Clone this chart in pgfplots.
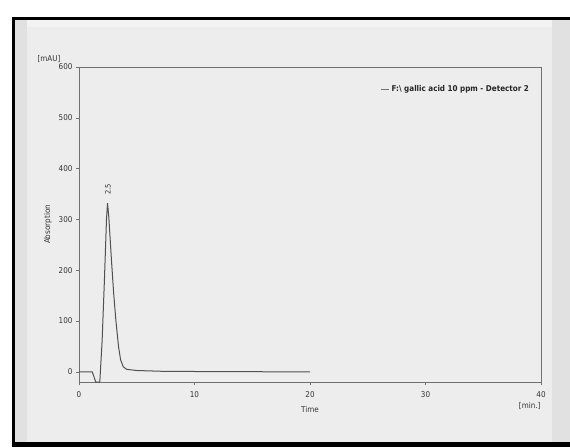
\documentclass[border=0pt]{standalone}
\usepackage{pgfplots}
\pgfplotsset{compat=1.18}
\usepackage{fontspec}
\setmainfont{DejaVu Sans Condensed}
\definecolor{bggray}{HTML}{EDEDED}
\definecolor{sidegray}{HTML}{E1E1E1}
\definecolor{axgray}{HTML}{707070}
\definecolor{txtgray}{HTML}{333333}
\definecolor{linegray}{HTML}{505050}

\begin{document}
\begin{tikzpicture}[x=1pt,y=1pt]
% page and frame
\fill[white] (0,0) rectangle (570,447);
\fill[black] (12,0) rectangle (570,430);
\fill[bggray] (15,5) rectangle (570,427);
\fill[sidegray] (15,5) rectangle (27,427);
\fill[sidegray] (552,5) rectangle (570,427);
\fill[white!30!bggray] (27,420) rectangle (552,427);
\begin{axis}[
  at={(79pt,65pt)}, anchor=south west,
  scale only axis,
  width=462pt, height=315pt,
  xmin=0, xmax=40, ymin=-20, ymax=600,
  xtick={0,10,20,30,40},
  ytick={0,100,200,300,400,500,600},
  tick pos=left,
  tick align=outside,
  major tick length=3pt,
  axis line style={axgray, line width=0.7pt},
  every tick/.style={axgray, line width=0.6pt},
  tick label style={font=\fontsize{8}{9}\selectfont, text=txtgray},
  /pgf/number format/assume math mode=true,
  xticklabel style={yshift=-3pt},
  xlabel={Time},
  xlabel style={font=\fontsize{8}{9}\selectfont, text=txtgray, yshift=-2pt},
  ylabel={Absorption},
  ylabel style={font=\fontsize{8}{9}\selectfont, text=txtgray, yshift=0pt},
  legend style={at={(0.985,0.955)}, anchor=north east, draw=none, fill=none,
    font=\fontsize{8}{9}\selectfont\bfseries, text=black!85},
  legend image post style={line width=1pt, black!55, xscale=0.5},
  clip mode=individual,
]
\addplot[linegray, line width=1pt] coordinates {
  (0,0) (1.15,0) (1.45,-20) (1.8,-20) (2.0,60) (2.2,180) (2.38,300) (2.47,332)
  (2.58,305) (2.81,220) (3.0,155) (3.19,102) (3.42,50) (3.6,24) (3.83,10)
  (4.12,5) (5.0,2.6) (7.3,1) (13,0.3) (20,0)
};
\addlegendentry{F:\textbackslash\ gallic acid 10 ppm - Detector 2}
\node[rotate=90, anchor=west, font=\fontsize{7.5}{9}\selectfont, text=txtgray] at (axis cs:2.5,342) {2.5};
\node[anchor=north east, font=\fontsize{8}{9}\selectfont, text=txtgray] at (rel axis cs:1,0) [yshift=-17pt, xshift=3pt] {[min.]};
\node[anchor=south east, font=\fontsize{8}{9}\selectfont, text=txtgray] at (rel axis cs:0,1) [yshift=1pt, xshift=-15pt] {[mAU]};
\end{axis}
\end{tikzpicture}
\end{document}
